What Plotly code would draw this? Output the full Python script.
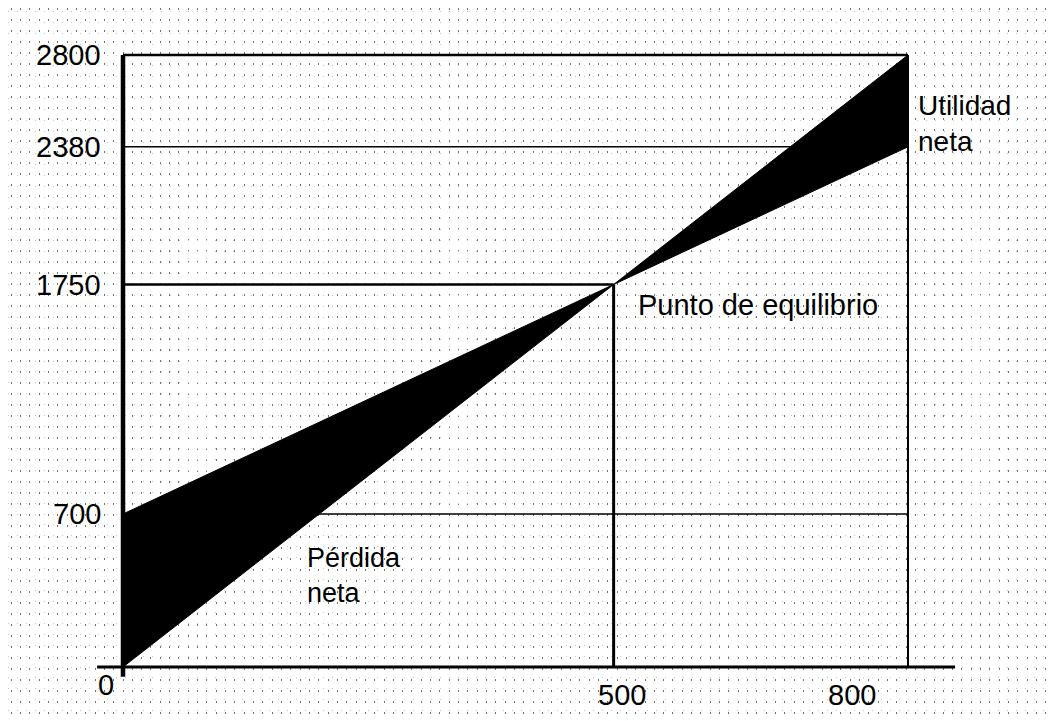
import plotly.graph_objects as go

# ---- data ----
units = [0, 500, 800]                 # production volume
revenue = [0, 1750, 2800]             # total revenue
total_cost = [700, 1750, 2380]        # fixed + variable cost
fixed_cost = 700
x_ticks = [0, 500, 800]
y_ticks = [0, 700, 1750, 2380, 2800]
breakeven_x, breakeven_y = 500, 1750

FONT = "Liberation Sans, Arial, sans-serif"
W, H = 1048, 713   # page has an 8px body margin

fig = go.Figure()

fig.add_trace(go.Scatter(x=units, y=total_cost, mode="lines",
                         line=dict(color="black", width=1), showlegend=False,
                         hoverinfo="skip"))
fig.add_trace(go.Scatter(x=units, y=revenue, mode="lines", fill="tonexty",
                         fillcolor="black", line=dict(color="black", width=1),
                         showlegend=False, hoverinfo="skip"))

xmax, ymax = x_ticks[-1], y_ticks[-1]
shapes = []
def line(x0, y0, x1, y1, w, layer="above"):
    shapes.append(dict(type="line", xref="x", yref="y", x0=x0, y0=y0, x1=x1, y1=y1,
                       line=dict(color="black", width=w), layer=layer))

line(0, fixed_cost, xmax, fixed_cost, 1.5, "between")
line(0, y_ticks[3], xmax, y_ticks[3], 1.5, "between")
line(0, breakeven_y, breakeven_x, breakeven_y, 2.5)
line(breakeven_x, 0, breakeven_x, breakeven_y, 3)
line(0, ymax, xmax, ymax, 2.5)
line(xmax, 0, xmax, ymax, 2)
line(0, -0.016 * ymax, 0, ymax, 4.5)
line(-0.033 * xmax, 0, 1.06 * xmax, 0, 3)

tick_font = dict(family=FONT, size=29, color="black")
annotations = []
for v in y_ticks[1:]:
    annotations.append(dict(x=0, y=v, xref="x", yref="y", text=str(v), showarrow=False,
                            xanchor="right", yanchor="middle", xshift=-20, font=tick_font))
annotations.append(dict(x=0, y=0, xref="x", yref="y", text="0", showarrow=False,
                        xanchor="center", yanchor="middle", xshift=-17, yshift=-18,
                        font=tick_font))
annotations.append(dict(x=x_ticks[1], y=0, xref="x", yref="y", text=str(x_ticks[1]),
                        showarrow=False, xanchor="center", yanchor="middle",
                        xshift=8, yshift=-28, font=tick_font))
annotations.append(dict(x=x_ticks[2], y=0, xref="x", yref="y", text=str(x_ticks[2]),
                        showarrow=False, xanchor="center", yanchor="middle",
                        xshift=-56, yshift=-28, font=tick_font))

annotations.append(dict(x=xmax, y=2649, xref="x", yref="y", text="Utilidad<br>neta",
                        showarrow=False, xanchor="left", yanchor="top", align="left",
                        xshift=8, font=dict(family=FONT, size=28, color="black")))
annotations.append(dict(x=breakeven_x, y=breakeven_y, xref="x", yref="y",
                        text="Punto de equilibrio", showarrow=False, xanchor="left",
                        yanchor="middle", xshift=22, yshift=-20,
                        font=dict(family=FONT, size=29, color="black")))
annotations.append(dict(x=185, y=576, xref="x", yref="y", text="Pérdida<br>neta",
                        showarrow=False, xanchor="left", yanchor="top", align="left",
                        font=dict(family=FONT, size=27, color="black")))

# axis ranges chosen so the plot spans the full figure
x0_px, x800_px = 115, 900
y0_px, y2800_px = 659, 47
px_per_x = (x800_px - x0_px) / xmax
px_per_y = (y0_px - y2800_px) / ymax
x_range = [-x0_px / px_per_x, (W - x0_px) / px_per_x]
y_range = [-(H - y0_px) / px_per_y, y0_px / px_per_y]

fig.update_layout(
    width=W, height=H, autosize=False,
    margin=dict(l=0, r=0, t=0, b=0),
    paper_bgcolor="white", plot_bgcolor="white",
    shapes=shapes, annotations=annotations,
    xaxis=dict(range=x_range, showticklabels=False, ticks="", zeroline=False,
               showline=False, showgrid=True, dtick=9.5, tick0=0,
               gridcolor="#707070", gridwidth=1, griddash="2px,9px", fixedrange=True),
    yaxis=dict(range=y_range, showticklabels=False, ticks="", zeroline=False,
               showline=False, showgrid=True, dtick=50, tick0=0,
               gridcolor="#c8c8c8", gridwidth=1, griddash="1px,8px", fixedrange=True),
)

fig.write_html("out.html")
